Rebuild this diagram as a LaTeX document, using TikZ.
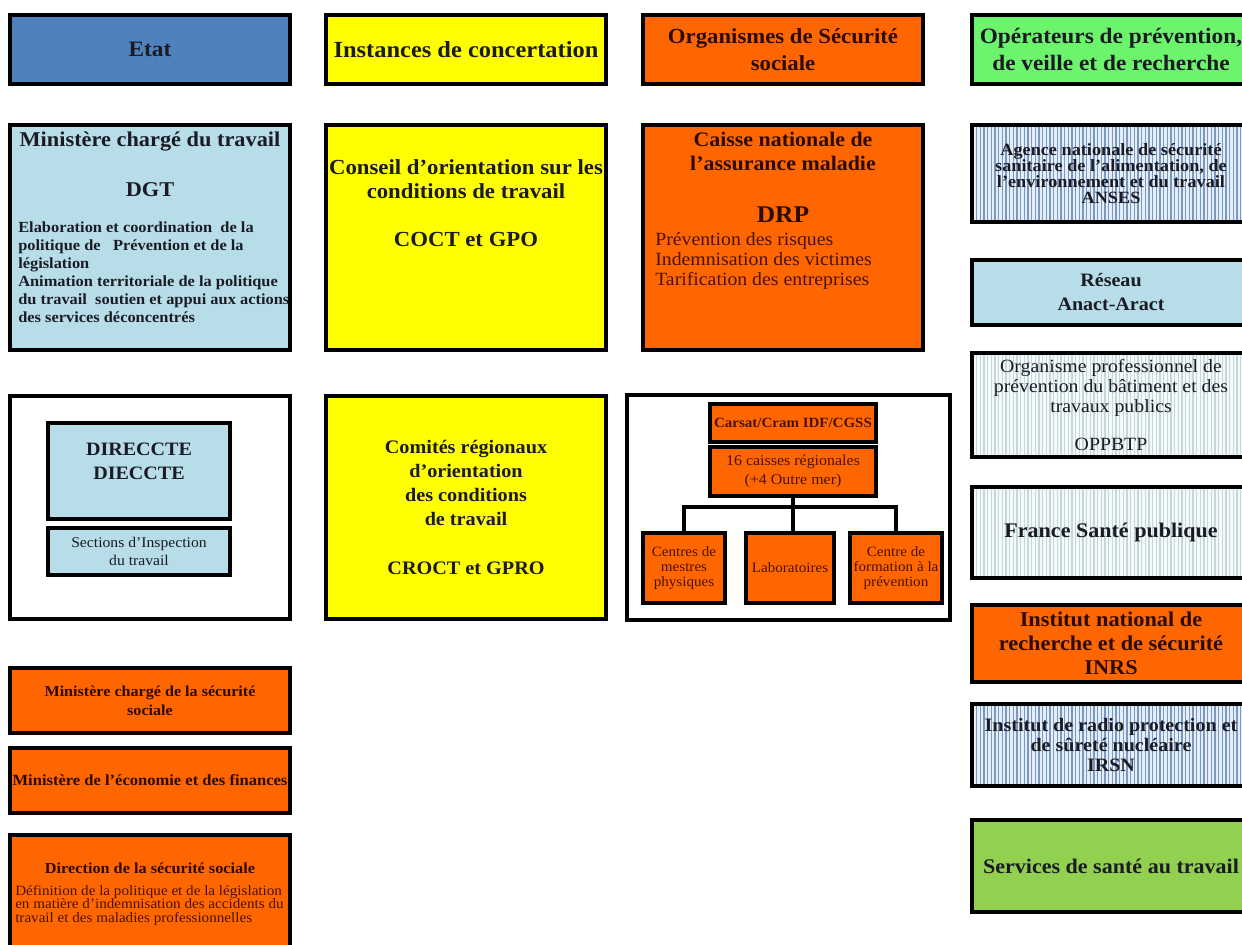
\documentclass[tikz,border=0pt]{standalone}
\usepackage{fontspec}
\setmainfont{Liberation Serif}[FakeStretch=1.06]
\definecolor{bleuetat}{HTML}{4F81BD}
\definecolor{jaune}{HTML}{FFFF00}
\definecolor{orangess}{HTML}{FF6600}
\definecolor{vertclair}{HTML}{6CF56C}
\definecolor{bleuclair}{HTML}{B7DEE8}
\definecolor{vertsst}{HTML}{92D050}
\definecolor{fondbleu}{HTML}{E4EEF8}
\definecolor{raiebleue}{HTML}{7B99C0}
\definecolor{fondgris}{HTML}{F4F9FA}
\definecolor{raiegrise}{HTML}{C5D9DC}
\definecolor{encre}{HTML}{1B1B24}
\definecolor{brun}{HTML}{4A1200}
\newcommand{\police}[2]{\fontsize{#1}{#2}\selectfont}
\begin{document}
\begin{tikzpicture}[x=0.75pt,y=-0.75pt,
    boite/.style 2 args={draw=black, line width=2.6pt, inner sep=0pt,
      minimum width=#1*0.75pt, minimum height=#2*0.75pt, align=center, text=encre},
    hachure/.style 2 args={fill=#1, path picture={
        \foreach \i in {0,...,80}
          \draw[#2, line width=1pt] ([xshift=\i*2.75pt+0.8pt]path picture bounding box.south west) -- ++(0,-200);}},
    titre/.style={font=\bfseries\police{16.5}{20}},
    trait/.style={line width=3pt}]
  \useasboundingbox (0,0) rectangle (1242,945);
  \clip (0,0) rectangle (1242,945);

  % premiere ligne
  \node[boite={280}{69}, fill=bleuetat, titre] (etat) at (150,49.5) {Etat};
  \node[boite={280}{69}, fill=jaune, font=\bfseries\police{17.3}{20}] (instances) at (466,49.5) {Instances de concertation};
  \node[boite={280}{69}, fill=orangess, font=\bfseries\police{16.1}{20}, text=brun!60!black] (organismes) at (783,49.5) {Organismes de Sécurité\\sociale};
  \node[boite={278}{69}, fill=vertclair, titre] (operateurs) at (1111,49.5) {Opérateurs de prévention,\\de veille et de recherche};

  % ministere du travail
  \node[boite={280}{225}, fill=bleuclair] (ministere) at (150,237.5) {};
  \node[anchor=base, font=\bfseries\police{15.8}{20}, text=encre] (mintitre) at (150,147) {Ministère chargé du travail};
  \node[anchor=base, font=\bfseries\police{15.8}{20}, text=encre] (dgt) at (150,196) {DGT};
  \node[anchor=north west, inner sep=0pt, align=left, font=\bfseries\police{11.6}{13.4}, text=encre] (minmission) at (18,222)
    {Elaboration et coordination\ \ de la\\politique de\ \ \ Prévention et de la\\législation\\Animation territoriale de la politique\\du travail\ \ soutien et appui aux actions\\des services déconcentrés};

  \node[boite={280}{225}, fill=jaune] (conseil) at (466,237.5) {};
  \node[anchor=north, align=center, font=\bfseries\police{16.1}{18}, text=encre] (conseiltexte) at (466,155)
    {Conseil d'orientation sur les\\conditions de travail\\[18pt]COCT et GPO};

  \node[boite={280}{225}, fill=orangess] (caisse) at (783,237.5) {};
  \node[anchor=north, align=center, font=\bfseries\police{15.5}{18}, text=brun!60!black] (caissetitre) at (783,127)
    {Caisse nationale de\\l'assurance maladie};
  \node[anchor=base, font=\bfseries\police{18}{20}, text=brun!60!black] (drp) at (783,222) {DRP};
  \node[anchor=north west, inner sep=0pt, align=left, font=\police{14}{15}, text=brun] (drpmission) at (655,232)
    {Prévention des risques\\Indemnisation des victimes\\Tarification des entreprises};

  % operateurs
  \node[boite={278}{97}, hachure={fondbleu}{raiebleue}, font=\bfseries\police{12.9}{12}] (anses) at (1111,173.5)
    {Agence nationale de sécurité\\sanitaire de l'alimentation, de\\l'environnement et du travail\\ANSES};
  \node[boite={278}{65}, fill=bleuclair, font=\bfseries\police{14.2}{18}] (reseau) at (1111,292.5) {Réseau\\Anact-Aract};
  \node[boite={278}{104}, hachure={fondgris}{raiegrise}, font=\police{14}{15}] (oppbtp) at (1111,405)
    {Organisme professionnel de\\prévention du bâtiment et des\\travaux publics\\[13pt]OPPBTP};
  \node[boite={278}{91}, hachure={fondgris}{raiegrise}, font=\bfseries\police{15.6}{18}] (sante) at (1111,532.5) {France Santé publique};
  \node[boite={278}{77}, fill=orangess, font=\bfseries\police{15.8}{18}, text=brun!60!black] (inrs) at (1111,643.5)
    {Institut national de\\recherche et de sécurité\\INRS};
  \node[boite={278}{82}, hachure={fondbleu}{raiebleue}, font=\bfseries\police{14.2}{15}] (irsn) at (1111,745)
    {Institut de radio protection et\\de sûreté nucléaire\\IRSN};
  \node[boite={278}{92}, fill=vertsst, font=\bfseries\police{15.6}{18}] (sst) at (1111,866) {Services de santé au travail};

  % services deconcentres
  \node[boite={280}{223}, fill=white] (deconcentre) at (150,507.5) {};
  \node[boite={182}{96}, fill=bleuclair] (direccte) at (139,471) {};
  \node[anchor=north, align=center, font=\bfseries\police{14.2}{18}, text=encre] (direcctetexte) at (139,438)
    {DIRECCTE\\DIECCTE};
  \node[boite={182}{47}, fill=bleuclair, font=\police{11.1}{14}] (sections) at (139,551.5)
    {Sections d'Inspection\\du travail};

  \node[boite={280}{223}, fill=jaune, font=\bfseries\police{14.3}{18}] (comites) at (466,507.5)
    {Comités régionaux\\d'orientation\\des conditions\\de travail\\[19pt]CROCT et GPRO};

  % reseau regional
  \node[boite={323}{225}, fill=white] (regional) at (788.5,507.5) {};
  \node[boite={166}{38}, fill=orangess, font=\bfseries\police{10.6}{13}, text=brun] (cram) at (793,423) {Carsat/Cram IDF/CGSS};
  \node[boite={166}{49}, fill=orangess, font=\police{11.3}{14}, text=brun] (caisses) at (793,471.5)
    {16 caisses régionales\\(+4 Outre mer)};
  \node[boite={82}{70}, fill=orangess, font=\police{10.7}{11.5}, text=brun] (centres) at (684,568)
    {Centres de\\mestres\\physiques};
  \node[boite={88}{70}, fill=orangess, font=\police{10.7}{11.5}, text=brun] (labo) at (790,568) {Laboratoires};
  \node[boite={92}{70}, fill=orangess, font=\police{10.7}{11.5}, text=brun] (formation) at (896,568)
    {Centre de\\formation à la\\prévention};
  \draw[trait] (caisses.south) -- ++(0,9) coordinate (fourche);
  \draw[trait] (centres.north) |- (fourche) -| (formation.north);
  \draw[trait] (fourche) -- (fourche |- labo.north);

  % securite sociale et finances
  \node[boite={280}{65}, fill=orangess, font=\bfseries\police{11.4}{14}, text=brun!60!black] (mss) at (150,700.5)
    {Ministère chargé de la sécurité\\sociale};
  \node[boite={280}{65}, fill=orangess, font=\bfseries\police{11.7}{14}, text=brun!60!black] (mef) at (150,780.5)
    {Ministère de l'économie et des finances};
  \node[boite={280}{125}, fill=orangess] (dss) at (150,897.5) {};
  \node[anchor=base, font=\bfseries\police{11.5}{14}, text=brun!60!black] (dsstitre) at (150,873) {Direction de la sécurité sociale};
  \node[anchor=north west, inner sep=0pt, align=left, font=\police{10.7}{10.2}, text=brun] (dssmission) at (15,885)
    {Définition de la politique et de la législation\\en matière d'indemnisation des accidents du\\travail et des maladies professionnelles};
\end{tikzpicture}
\end{document}
